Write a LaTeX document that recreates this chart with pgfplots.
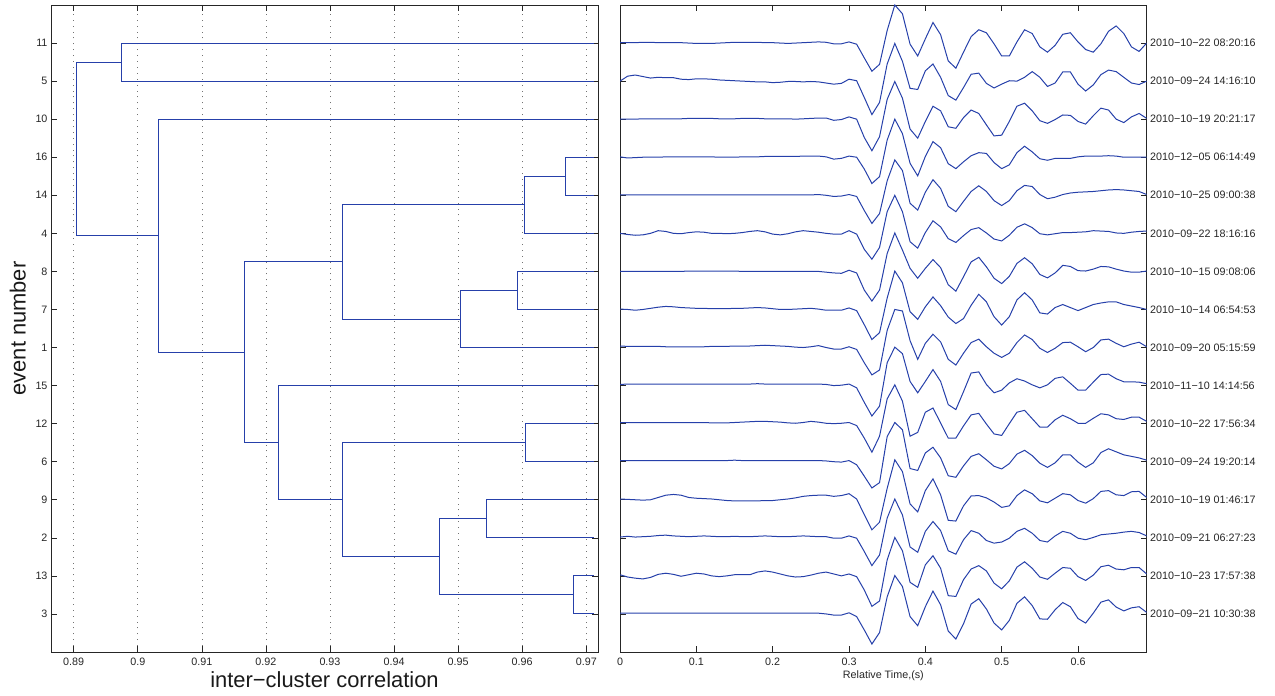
\documentclass[border=0pt]{standalone}
\usepackage{fontspec}
\setmainfont{Liberation Sans}
\usepackage{pgfplots}
\usepackage{pgfplotstable}
\pgfplotsset{compat=1.18}
\definecolor{mblue}{RGB}{38,64,170}

\pgfplotstableread[row sep=\\]{
t v\\
0.00 0.01\\0.01 0.01\\0.02 0.01\\0.03 0.02\\0.04 0.02\\0.05 0.01\\0.06 0.01\\0.07 0.01\\0.08 0.01\\0.09 0.00\\
0.10 -0.01\\0.11 -0.01\\0.12 -0.01\\0.13 0.00\\0.14 0.01\\0.15 0.02\\0.16 0.02\\0.17 0.02\\0.18 0.02\\0.19 0.01\\
0.20 0.01\\0.21 0.00\\0.22 -0.01\\0.23 0.00\\0.24 0.01\\0.25 0.02\\0.26 0.03\\0.27 0.02\\0.28 -0.02\\0.29 -0.02\\
0.30 0.03\\0.31 -0.03\\0.32 -0.39\\0.33 -0.74\\0.34 -0.56\\0.35 0.33\\0.36 1.00\\0.37 0.77\\0.38 -0.03\\0.39 -0.34\\
0.40 0.11\\0.41 0.54\\0.42 0.22\\0.43 -0.47\\0.44 -0.66\\0.45 -0.24\\0.46 0.17\\0.47 0.35\\0.48 0.27\\0.49 -0.02\\
0.50 -0.34\\0.51 -0.34\\0.52 0.03\\0.53 0.35\\0.54 0.25\\0.55 -0.10\\0.56 -0.24\\0.57 -0.06\\0.58 0.23\\0.59 0.27\\
0.60 0.03\\0.61 -0.17\\0.62 -0.24\\0.63 -0.02\\0.64 0.31\\0.65 0.45\\0.66 0.25\\0.67 -0.10\\0.68 -0.22\\0.69 0.00\\
}\wA
\pgfplotstableread[row sep=\\]{
t v\\
0.00 0.00\\0.01 0.13\\0.02 0.16\\0.03 0.12\\0.04 0.08\\0.05 0.10\\0.06 0.09\\0.07 0.09\\0.08 0.05\\0.09 0.04\\
0.10 0.06\\0.11 0.06\\0.12 0.05\\0.13 0.03\\0.14 0.02\\0.15 0.01\\0.16 0.00\\0.17 -0.01\\0.18 -0.02\\0.19 -0.02\\
0.20 -0.04\\0.21 -0.03\\0.22 -0.01\\0.23 -0.01\\0.24 -0.02\\0.25 -0.01\\0.26 -0.02\\0.27 -0.05\\0.28 -0.08\\0.29 -0.06\\
0.30 0.05\\0.31 0.01\\0.32 -0.43\\0.33 -0.88\\0.34 -0.56\\0.35 0.45\\0.36 0.99\\0.37 0.52\\0.38 -0.19\\0.39 -0.22\\
0.40 0.27\\0.41 0.45\\0.42 0.10\\0.43 -0.38\\0.44 -0.50\\0.45 -0.17\\0.46 0.18\\0.47 0.21\\0.48 -0.06\\0.49 -0.18\\
0.50 -0.08\\0.51 0.01\\0.52 0.00\\0.53 0.10\\0.54 0.25\\0.55 0.10\\0.56 -0.14\\0.57 -0.05\\0.58 0.24\\0.59 0.24\\
0.60 -0.08\\0.61 -0.26\\0.62 -0.10\\0.63 0.17\\0.64 0.29\\0.65 0.25\\0.66 0.10\\0.67 -0.05\\0.68 -0.09\\0.69 0.00\\
}\wB
\pgfplotstableread[row sep=\\]{
t v\\
0.00 0.00\\0.01 0.00\\0.02 0.00\\0.03 0.01\\0.04 0.01\\0.05 0.01\\0.06 0.01\\0.07 0.01\\0.08 0.01\\0.09 0.02\\
0.10 0.02\\0.11 0.02\\0.12 0.02\\0.13 0.01\\0.14 0.01\\0.15 0.01\\0.16 0.02\\0.17 0.02\\0.18 0.02\\0.19 0.01\\
0.20 0.01\\0.21 0.01\\0.22 0.01\\0.23 0.00\\0.24 0.01\\0.25 0.02\\0.26 0.03\\0.27 0.03\\0.28 -0.03\\0.29 -0.01\\
0.30 0.06\\0.31 0.00\\0.32 -0.48\\0.33 -0.83\\0.34 -0.46\\0.35 0.52\\0.36 0.99\\0.37 0.55\\0.38 -0.26\\0.39 -0.50\\
0.40 -0.06\\0.41 0.34\\0.42 0.22\\0.43 -0.20\\0.44 -0.24\\0.45 0.04\\0.46 0.24\\0.47 0.15\\0.48 -0.15\\0.49 -0.44\\
0.50 -0.42\\0.51 -0.06\\0.52 0.34\\0.53 0.42\\0.54 0.22\\0.55 -0.04\\0.56 -0.11\\0.57 -0.01\\0.58 0.11\\0.59 0.10\\
0.60 -0.06\\0.61 -0.13\\0.62 0.09\\0.63 0.29\\0.64 0.24\\0.65 0.00\\0.66 -0.09\\0.67 0.06\\0.68 0.15\\0.69 0.02\\
}\wC
\pgfplotstableread[row sep=\\]{
t v\\
0.00 0.01\\0.01 -0.02\\0.02 -0.01\\0.03 0.00\\0.04 0.00\\0.05 0.00\\0.06 0.01\\0.07 0.01\\0.08 0.01\\0.09 0.01\\
0.10 0.01\\0.11 0.01\\0.12 0.01\\0.13 0.00\\0.14 0.00\\0.15 0.00\\0.16 0.01\\0.17 0.01\\0.18 0.01\\0.19 0.02\\
0.20 0.02\\0.21 0.02\\0.22 0.02\\0.23 0.02\\0.24 0.03\\0.25 0.03\\0.26 0.03\\0.27 0.01\\0.28 -0.05\\0.29 -0.03\\
0.30 0.03\\0.31 0.00\\0.32 -0.31\\0.33 -0.69\\0.34 -0.51\\0.35 0.45\\0.36 1.00\\0.37 0.62\\0.38 -0.16\\0.39 -0.49\\
0.40 0.02\\0.41 0.41\\0.42 0.25\\0.43 -0.17\\0.44 -0.30\\0.45 -0.12\\0.46 0.04\\0.47 0.12\\0.48 0.10\\0.49 -0.14\\
0.50 -0.30\\0.51 -0.20\\0.52 0.12\\0.53 0.29\\0.54 0.14\\0.55 -0.04\\0.56 -0.08\\0.57 -0.03\\0.58 -0.03\\0.59 -0.03\\
0.60 0.01\\0.61 0.03\\0.62 0.03\\0.63 0.03\\0.64 0.04\\0.65 0.03\\0.66 0.00\\0.67 0.00\\0.68 0.00\\0.69 0.00\\
}\wD
\pgfplotstableread[row sep=\\]{
t v\\
0.00 0.01\\0.01 0.01\\0.02 0.01\\0.03 0.01\\0.04 0.01\\0.05 0.01\\0.06 0.01\\0.07 0.01\\0.08 0.01\\0.09 0.01\\
0.10 0.01\\0.11 0.01\\0.12 0.01\\0.13 0.01\\0.14 0.01\\0.15 0.01\\0.16 0.01\\0.17 0.01\\0.18 0.01\\0.19 0.01\\
0.20 0.01\\0.21 0.01\\0.22 0.01\\0.23 0.01\\0.24 0.01\\0.25 0.01\\0.26 0.02\\0.27 0.00\\0.28 -0.03\\0.29 -0.02\\
0.30 0.02\\0.31 -0.03\\0.32 -0.40\\0.33 -0.74\\0.34 -0.48\\0.35 0.38\\0.36 0.93\\0.37 0.65\\0.38 -0.21\\0.39 -0.39\\
0.40 0.08\\0.41 0.41\\0.42 0.18\\0.43 -0.29\\0.44 -0.43\\0.45 -0.16\\0.46 0.10\\0.47 0.25\\0.48 0.10\\0.49 -0.14\\
0.50 -0.27\\0.51 -0.14\\0.52 0.12\\0.53 0.26\\0.54 0.23\\0.55 0.02\\0.56 -0.09\\0.57 -0.05\\0.58 0.02\\0.59 0.06\\
0.60 0.08\\0.61 0.09\\0.62 0.10\\0.63 0.12\\0.64 0.14\\0.65 0.15\\0.66 0.14\\0.67 0.12\\0.68 0.10\\0.69 0.02\\
}\wE
\pgfplotstableread[row sep=\\]{
t v\\
0.00 0.00\\0.01 -0.03\\0.02 -0.05\\0.03 -0.04\\0.04 0.00\\0.05 0.07\\0.06 0.05\\0.07 0.00\\0.08 -0.01\\0.09 0.02\\
0.10 0.04\\0.11 0.03\\0.12 0.00\\0.13 0.00\\0.14 -0.01\\0.15 0.00\\0.16 0.02\\0.17 0.05\\0.18 0.07\\0.19 0.04\\
0.20 -0.02\\0.21 -0.04\\0.22 -0.01\\0.23 0.04\\0.24 0.07\\0.25 0.05\\0.26 0.03\\0.27 0.00\\0.28 -0.02\\0.29 -0.02\\
0.30 0.07\\0.31 -0.02\\0.32 -0.42\\0.33 -0.68\\0.34 -0.37\\0.35 0.57\\0.36 1.00\\0.37 0.57\\0.38 -0.22\\0.39 -0.39\\
0.40 0.02\\0.41 0.33\\0.42 0.17\\0.43 -0.14\\0.44 -0.24\\0.45 -0.06\\0.46 0.10\\0.47 0.15\\0.48 0.01\\0.49 -0.15\\
0.50 -0.20\\0.51 -0.05\\0.52 0.16\\0.53 0.25\\0.54 0.15\\0.55 -0.01\\0.56 -0.04\\0.57 -0.01\\0.58 0.02\\0.59 0.02\\
0.60 0.03\\0.61 0.04\\0.62 0.07\\0.63 0.06\\0.64 0.05\\0.65 0.01\\0.66 0.00\\0.67 0.03\\0.68 0.05\\0.69 0.06\\
}\wF
\pgfplotstableread[row sep=\\]{
t v\\
0.00 0.00\\0.01 0.00\\0.02 0.00\\0.03 0.00\\0.04 0.00\\0.05 0.00\\0.06 0.00\\0.07 0.00\\0.08 0.00\\0.09 0.01\\
0.10 0.01\\0.11 0.01\\0.12 0.01\\0.13 0.01\\0.14 0.01\\0.15 0.01\\0.16 0.00\\0.17 0.00\\0.18 0.00\\0.19 0.00\\
0.20 0.00\\0.21 0.00\\0.22 0.00\\0.23 0.00\\0.24 0.00\\0.25 0.00\\0.26 0.00\\0.27 -0.02\\0.28 -0.04\\0.29 -0.05\\
0.30 0.03\\0.31 -0.04\\0.32 -0.49\\0.33 -0.78\\0.34 -0.49\\0.35 0.47\\0.36 1.01\\0.37 0.56\\0.38 0.08\\0.39 -0.18\\
0.40 0.08\\0.41 0.31\\0.42 0.10\\0.43 -0.35\\0.44 -0.52\\0.45 -0.14\\0.46 0.25\\0.47 0.37\\0.48 0.12\\0.49 -0.18\\
0.50 -0.32\\0.51 -0.13\\0.52 0.21\\0.53 0.36\\0.54 0.20\\0.55 -0.08\\0.56 -0.17\\0.57 -0.04\\0.58 0.16\\0.59 0.13\\
0.60 0.02\\0.61 0.01\\0.62 0.06\\0.63 0.13\\0.64 0.12\\0.65 0.06\\0.66 0.01\\0.67 -0.02\\0.68 -0.02\\0.69 0.01\\
}\wG
\pgfplotstableread[row sep=\\]{
t v\\
0.00 0.01\\0.01 0.00\\0.02 -0.02\\0.03 0.00\\0.04 0.03\\0.05 0.06\\0.06 0.08\\0.07 0.07\\0.08 0.05\\0.09 0.04\\
0.10 0.03\\0.11 0.03\\0.12 0.02\\0.13 0.02\\0.14 0.02\\0.15 0.03\\0.16 0.03\\0.17 0.04\\0.18 0.05\\0.19 0.04\\
0.20 0.02\\0.21 0.00\\0.22 0.00\\0.23 0.01\\0.24 0.02\\0.25 0.03\\0.26 0.01\\0.27 -0.02\\0.28 -0.02\\0.29 -0.02\\
0.30 0.04\\0.31 -0.03\\0.32 -0.40\\0.33 -0.79\\0.34 -0.61\\0.35 0.30\\0.36 1.01\\0.37 0.70\\0.38 -0.06\\0.39 -0.26\\
0.40 0.07\\0.41 0.33\\0.42 0.10\\0.43 -0.20\\0.44 -0.37\\0.45 -0.24\\0.46 0.11\\0.47 0.40\\0.48 0.20\\0.49 -0.19\\
0.50 -0.41\\0.51 -0.19\\0.52 0.25\\0.53 0.44\\0.54 0.25\\0.55 -0.09\\0.56 -0.12\\0.57 0.05\\0.58 0.13\\0.59 0.05\\
0.60 -0.03\\0.61 0.05\\0.62 0.13\\0.63 0.17\\0.64 0.20\\0.65 0.20\\0.66 0.13\\0.67 0.09\\0.68 0.05\\0.69 0.00\\
}\wH
\pgfplotstableread[row sep=\\]{
t v\\
0.00 0.04\\0.01 0.03\\0.02 0.03\\0.03 0.03\\0.04 0.03\\0.05 0.03\\0.06 0.02\\0.07 0.02\\0.08 0.02\\0.09 0.02\\
0.10 0.02\\0.11 0.02\\0.12 0.03\\0.13 0.03\\0.14 0.03\\0.15 0.04\\0.16 0.04\\0.17 0.04\\0.18 0.05\\0.19 0.06\\
0.20 0.05\\0.21 0.04\\0.22 0.03\\0.23 0.01\\0.24 0.00\\0.25 0.02\\0.26 0.05\\0.27 0.00\\0.28 -0.04\\0.29 -0.04\\
0.30 0.02\\0.31 -0.05\\0.32 -0.40\\0.33 -0.72\\0.34 -0.59\\0.35 0.45\\0.36 1.00\\0.37 0.96\\0.38 0.18\\0.39 -0.31\\
0.40 0.11\\0.41 0.35\\0.42 0.15\\0.43 -0.31\\0.44 -0.46\\0.45 -0.15\\0.46 0.13\\0.47 0.22\\0.48 0.02\\0.49 -0.15\\
0.50 -0.26\\0.51 -0.15\\0.52 0.13\\0.53 0.33\\0.54 0.21\\0.55 -0.02\\0.56 -0.13\\0.57 -0.02\\0.58 0.13\\0.59 0.14\\
0.60 0.02\\0.61 -0.11\\0.62 0.00\\0.63 0.20\\0.64 0.22\\0.65 0.11\\0.66 0.02\\0.67 0.09\\0.68 0.14\\0.69 0.02\\
}\wI
\pgfplotstableread[row sep=\\]{
t v\\
0.00 0.03\\0.01 0.04\\0.02 0.04\\0.03 0.04\\0.04 0.04\\0.05 0.04\\0.06 0.04\\0.07 0.04\\0.08 0.04\\0.09 0.04\\
0.10 0.04\\0.11 0.04\\0.12 0.04\\0.13 0.04\\0.14 0.04\\0.15 0.04\\0.16 0.04\\0.17 0.04\\0.18 0.05\\0.19 0.04\\
0.20 0.04\\0.21 0.04\\0.22 0.04\\0.23 0.04\\0.24 0.04\\0.25 0.04\\0.26 0.04\\0.27 0.03\\0.28 0.00\\0.29 0.01\\
0.30 0.04\\0.31 -0.06\\0.32 -0.44\\0.33 -0.80\\0.34 -0.54\\0.35 0.60\\0.36 1.01\\0.37 0.84\\0.38 0.11\\0.39 -0.19\\
0.40 0.11\\0.41 0.42\\0.42 0.11\\0.43 -0.50\\0.44 -0.63\\0.45 -0.16\\0.46 0.33\\0.47 0.36\\0.48 0.03\\0.49 -0.19\\
0.50 -0.12\\0.51 0.07\\0.52 0.18\\0.53 0.12\\0.54 0.02\\0.55 -0.06\\0.56 0.02\\0.57 0.19\\0.58 0.23\\0.59 0.06\\
0.60 -0.12\\0.61 -0.12\\0.62 0.09\\0.63 0.29\\0.64 0.30\\0.65 0.18\\0.66 0.10\\0.67 0.10\\0.68 0.09\\0.69 0.05\\
}\wJ
\pgfplotstableread[row sep=\\]{
t v\\
0.00 0.03\\0.01 0.03\\0.02 0.03\\0.03 0.03\\0.04 0.03\\0.05 0.03\\0.06 0.03\\0.07 0.03\\0.08 0.03\\0.09 0.03\\
0.10 0.03\\0.11 0.03\\0.12 0.02\\0.13 0.02\\0.14 0.02\\0.15 0.03\\0.16 0.04\\0.17 0.05\\0.18 0.06\\0.19 0.06\\
0.20 0.05\\0.21 0.04\\0.22 0.02\\0.23 0.01\\0.24 0.03\\0.25 0.06\\0.26 0.04\\0.27 0.01\\0.28 0.00\\0.29 0.01\\
0.30 0.03\\0.31 -0.05\\0.32 -0.38\\0.33 -0.75\\0.34 -0.33\\0.35 0.65\\0.36 1.02\\0.37 0.59\\0.38 -0.33\\0.39 -0.23\\
0.40 0.30\\0.41 0.41\\0.42 0.02\\0.43 -0.38\\0.44 -0.38\\0.45 -0.06\\0.46 0.23\\0.47 0.27\\0.48 -0.01\\0.49 -0.27\\
0.50 -0.31\\0.51 0.00\\0.52 0.30\\0.53 0.35\\0.54 0.13\\0.55 -0.09\\0.56 -0.09\\0.57 0.10\\0.58 0.22\\0.59 0.13\\
0.60 0.01\\0.61 0.01\\0.62 0.14\\0.63 0.26\\0.64 0.23\\0.65 0.13\\0.66 0.11\\0.67 0.17\\0.68 0.17\\0.69 0.06\\
}\wK
\pgfplotstableread[row sep=\\]{
t v\\
0.00 0.03\\0.01 0.03\\0.02 0.03\\0.03 0.03\\0.04 0.03\\0.05 0.03\\0.06 0.03\\0.07 0.03\\0.08 0.03\\0.09 0.03\\
0.10 0.03\\0.11 0.03\\0.12 0.03\\0.13 0.03\\0.14 0.03\\0.15 0.04\\0.16 0.03\\0.17 0.03\\0.18 0.03\\0.19 0.03\\
0.20 0.03\\0.21 0.03\\0.22 0.03\\0.23 0.03\\0.24 0.03\\0.25 0.03\\0.26 0.03\\0.27 0.02\\0.28 0.00\\0.29 -0.01\\
0.30 0.03\\0.31 -0.08\\0.32 -0.38\\0.33 -0.69\\0.34 -0.55\\0.35 0.66\\0.36 1.03\\0.37 0.84\\0.38 -0.18\\0.39 -0.23\\
0.40 0.23\\0.41 0.38\\0.42 0.10\\0.43 -0.37\\0.44 -0.41\\0.45 -0.11\\0.46 0.14\\0.47 0.21\\0.48 0.05\\0.49 -0.12\\
0.50 -0.19\\0.51 -0.05\\0.52 0.20\\0.53 0.30\\0.54 0.16\\0.55 -0.04\\0.56 -0.15\\0.57 -0.03\\0.58 0.18\\0.59 0.18\\
0.60 -0.01\\0.61 -0.15\\0.62 -0.03\\0.63 0.24\\0.64 0.34\\0.65 0.26\\0.66 0.18\\0.67 0.14\\0.68 0.10\\0.69 0.04\\
}\wL
\pgfplotstableread[row sep=\\]{
t v\\
0.00 0.02\\0.01 0.01\\0.02 0.00\\0.03 -0.01\\0.04 0.00\\0.05 0.06\\0.06 0.12\\0.07 0.14\\0.08 0.12\\0.09 0.06\\
0.10 0.04\\0.11 0.03\\0.12 0.02\\0.13 0.00\\0.14 -0.02\\0.15 -0.03\\0.16 -0.03\\0.17 -0.03\\0.18 -0.03\\0.19 -0.02\\
0.20 -0.02\\0.21 0.00\\0.22 0.02\\0.23 0.05\\0.24 0.09\\0.25 0.11\\0.26 0.12\\0.27 0.12\\0.28 0.09\\0.29 0.11\\
0.30 0.16\\0.31 0.02\\0.32 -0.39\\0.33 -0.79\\0.34 -0.59\\0.35 0.30\\0.36 1.05\\0.37 0.74\\0.38 -0.11\\0.39 -0.32\\
0.40 0.24\\0.41 0.55\\0.42 0.13\\0.43 -0.54\\0.44 -0.56\\0.45 -0.16\\0.46 0.10\\0.47 0.11\\0.48 0.05\\0.49 -0.06\\
0.50 -0.20\\0.51 -0.16\\0.52 0.11\\0.53 0.26\\0.54 0.16\\0.55 -0.03\\0.56 -0.08\\0.57 0.04\\0.58 0.16\\0.59 0.13\\
0.60 -0.02\\0.61 -0.09\\0.62 0.03\\0.63 0.22\\0.64 0.24\\0.65 0.13\\0.66 0.11\\0.67 0.21\\0.68 0.22\\0.69 0.06\\
}\wM
\pgfplotstableread[row sep=\\]{
t v\\
0.00 0.02\\0.01 0.04\\0.02 0.02\\0.03 0.03\\0.04 0.04\\0.05 0.06\\0.06 0.07\\0.07 0.05\\0.08 0.04\\0.09 0.03\\
0.10 0.04\\0.11 0.05\\0.12 0.04\\0.13 0.03\\0.14 0.03\\0.15 0.04\\0.16 0.03\\0.17 0.03\\0.18 0.04\\0.19 0.05\\
0.20 0.04\\0.21 0.03\\0.22 0.03\\0.23 0.04\\0.24 0.05\\0.25 0.04\\0.26 0.03\\0.27 0.03\\0.28 -0.01\\0.29 -0.01\\
0.30 0.05\\0.31 -0.01\\0.32 -0.36\\0.33 -0.73\\0.34 -0.45\\0.35 0.52\\0.36 1.02\\0.37 0.60\\0.38 -0.24\\0.39 -0.38\\
0.40 0.17\\0.41 0.43\\0.42 0.19\\0.43 -0.34\\0.44 -0.43\\0.45 -0.05\\0.46 0.19\\0.47 0.12\\0.48 -0.07\\0.49 -0.14\\
0.50 -0.11\\0.51 -0.01\\0.52 0.17\\0.53 0.25\\0.54 0.12\\0.55 -0.07\\0.56 -0.11\\0.57 0.05\\0.58 0.17\\0.59 0.12\\
0.60 -0.01\\0.61 -0.05\\0.62 0.01\\0.63 0.08\\0.64 0.10\\0.65 0.12\\0.66 0.15\\0.67 0.17\\0.68 0.14\\0.69 0.05\\
}\wN
\pgfplotstableread[row sep=\\]{
t v\\
0.00 0.03\\0.01 -0.03\\0.02 -0.06\\0.03 -0.08\\0.04 -0.04\\0.05 0.04\\0.06 0.07\\0.07 0.04\\0.08 -0.01\\0.09 0.03\\
0.10 0.07\\0.11 0.05\\0.12 0.00\\0.13 -0.02\\0.14 0.00\\0.15 0.03\\0.16 0.03\\0.17 0.03\\0.18 0.10\\0.19 0.13\\
0.20 0.10\\0.21 0.05\\0.22 0.00\\0.23 -0.03\\0.24 -0.02\\0.25 0.02\\0.26 0.07\\0.27 0.10\\0.28 0.05\\0.29 0.00\\
0.30 0.05\\0.31 -0.02\\0.32 -0.37\\0.33 -0.80\\0.34 -0.66\\0.35 0.42\\0.36 1.01\\0.37 0.66\\0.38 -0.17\\0.39 -0.30\\
0.40 0.29\\0.41 0.53\\0.42 0.20\\0.43 -0.52\\0.44 -0.54\\0.45 -0.10\\0.46 0.18\\0.47 0.27\\0.48 0.13\\0.49 -0.19\\
0.50 -0.34\\0.51 -0.13\\0.52 0.23\\0.53 0.37\\0.54 0.20\\0.55 -0.03\\0.56 -0.09\\0.57 0.07\\0.58 0.22\\0.59 0.20\\
0.60 -0.02\\0.61 -0.12\\0.62 0.02\\0.63 0.24\\0.64 0.28\\0.65 0.18\\0.66 0.16\\0.67 0.22\\0.68 0.22\\0.69 0.05\\
}\wO
\pgfplotstableread[row sep=\\]{
t v\\
0.00 0.02\\0.01 0.02\\0.02 0.02\\0.03 0.02\\0.04 0.02\\0.05 0.02\\0.06 0.02\\0.07 0.02\\0.08 0.02\\0.09 0.02\\
0.10 0.02\\0.11 0.02\\0.12 0.02\\0.13 0.02\\0.14 0.02\\0.15 0.02\\0.16 0.02\\0.17 0.02\\0.18 0.02\\0.19 0.02\\
0.20 0.02\\0.21 0.02\\0.22 0.02\\0.23 0.02\\0.24 0.02\\0.25 0.02\\0.26 0.02\\0.27 0.00\\0.28 -0.03\\0.29 -0.03\\
0.30 0.03\\0.31 -0.07\\0.32 -0.42\\0.33 -0.79\\0.34 -0.49\\0.35 0.45\\0.36 1.01\\0.37 0.72\\0.38 -0.07\\0.39 -0.31\\
0.40 0.19\\0.41 0.60\\0.42 0.24\\0.43 -0.45\\0.44 -0.66\\0.45 -0.26\\0.46 0.26\\0.47 0.40\\0.48 0.13\\0.49 -0.24\\
0.50 -0.42\\0.51 -0.17\\0.52 0.28\\0.53 0.45\\0.54 0.22\\0.55 -0.13\\0.56 -0.14\\0.57 0.11\\0.58 0.30\\0.59 0.19\\
0.60 -0.12\\0.61 -0.24\\0.62 0.02\\0.63 0.31\\0.64 0.37\\0.65 0.18\\0.66 0.08\\0.67 0.16\\0.68 0.19\\0.69 0.04\\
}\wP

% dendrogram links (U-shapes separated by nan rows); leaf ends at 0.9712
\pgfplotstableread{
x y
0.9712 2
0.9680 2
0.9680 1
0.9712 1
nan nan
0.9712 4
0.9544 4
0.9544 3
0.9712 3
nan nan
0.9680 1.5
0.9471 1.5
0.9471 3.5
0.9544 3.5
nan nan
0.9712 6
0.9605 6
0.9605 5
0.9712 5
nan nan
0.9605 5.5
0.9320 5.5
0.9320 2.5
0.9471 2.5
nan nan
0.9712 7
0.9219 7
0.9219 4
0.9320 4
nan nan
0.9712 10
0.9592 10
0.9592 9
0.9712 9
nan nan
0.9712 8
0.9504 8
0.9504 9.5
0.9592 9.5
nan nan
0.9712 13
0.9667 13
0.9667 12
0.9712 12
nan nan
0.9712 11
0.9604 11
0.9604 12.5
0.9667 12.5
nan nan
0.9604 11.75
0.9319 11.75
0.9319 8.75
0.9504 8.75
nan nan
0.9319 10.25
0.9167 10.25
0.9167 5.5
0.9219 5.5
nan nan
0.9712 14
0.9033 14
0.9033 7.875
0.9167 7.875
nan nan
0.9712 16
0.8975 16
0.8975 15
0.9712 15
nan nan
0.8975 15.5
0.8904 15.5
0.8904 10.9375
0.9033 10.9375
}\dendro

\pgfplotsset{
  mystyle/.style={
    scale only axis,
    anchor=south west,
    height=647bp,
    ymin=0, ymax=17,
    ytick={1,2,3,4,5,6,7,8,9,10,11,12,13,14,15,16},
    tick align=inside,
    major tick length=6bp,
    axis line style={black!85, line width=0.8bp},
    every tick/.style={black!85, line width=0.6bp},
    tick label style={font=\fontsize{10.8}{12}\selectfont, text=black!85},
    xticklabel style={yshift=-2bp},
    /pgf/number format/assume math mode=true,
  },
  wave/.style={mblue, line width=1bp, mark=none},
}

\begin{document}
\begin{tikzpicture}
\useasboundingbox (0,0) rectangle (1275bp,696bp);
\begin{axis}[mystyle,
  at={(51bp,44bp)}, width=547bp,
  xmin=0.88646, xmax=0.97183,
  xtick={0.89,0.90,0.91,0.92,0.93,0.94,0.95,0.96,0.97},
  xticklabels={0.89,0.9,0.91,0.92,0.93,0.94,0.95,0.96,0.97},
  yticklabels={3,13,2,9,6,12,15,1,7,8,4,14,16,10,5,11},
  xmajorgrids,
  major grid style={black!55, line width=0.6bp, dash pattern=on 0.9bp off 5bp},
  xlabel={inter−cluster correlation},
  ylabel={event number},
  label style={font=\fontsize{22}{24}\selectfont, text=black!90},
  xlabel style={at={(axis description cs:0.5,-0.0556)}, anchor=base},
  ylabel style={at={(axis description cs:-0.0466,0.5)}, anchor=base},
  clip=false,
  unbounded coords=jump,
]
\addplot[draw=mblue, line width=0.9bp, mark=none] table[x=x, y=y] {\dendro};
\end{axis}

\begin{axis}[mystyle,
  at={(620bp,44bp)}, width=526.7bp,
  xmin=0, xmax=0.69,
  xtick={0,0.1,0.2,0.3,0.4,0.5,0.6},
  xticklabels={0,0.1,0.2,0.3,0.4,0.5,0.6},
  yticklabel pos=right,
  yticklabels={2010−09−21 10:30:38,2010−10−23 17:57:38,2010−09−21 06:27:23,2010−10−19 01:46:17,2010−09−24 19:20:14,2010−10−22 17:56:34,2010−11−10 14:14:56,2010−09−20 05:15:59,2010−10−14 06:54:53,2010−10−15 09:08:06,2010−09−22 18:16:16,2010−10−25 09:00:38,2010−12−05 06:14:49,2010−10−19 20:21:17,2010−09−24 14:16:10,2010−10−22 08:20:16},
  xlabel={Relative Time,(s)},
  xlabel style={font=\fontsize{10.8}{12}\selectfont, text=black!85, at={(axis description cs:0.5,-0.0417)}, anchor=base},
]
\addplot[wave] table[x=t, y expr=\thisrow{v}+16] {\wA};
\addplot[wave] table[x=t, y expr=\thisrow{v}+15] {\wB};
\addplot[wave] table[x=t, y expr=\thisrow{v}+14] {\wC};
\addplot[wave] table[x=t, y expr=\thisrow{v}+13] {\wD};
\addplot[wave] table[x=t, y expr=\thisrow{v}+12] {\wE};
\addplot[wave] table[x=t, y expr=\thisrow{v}+11] {\wF};
\addplot[wave] table[x=t, y expr=\thisrow{v}+10] {\wG};
\addplot[wave] table[x=t, y expr=\thisrow{v}+9] {\wH};
\addplot[wave] table[x=t, y expr=\thisrow{v}+8] {\wI};
\addplot[wave] table[x=t, y expr=\thisrow{v}+7] {\wJ};
\addplot[wave] table[x=t, y expr=\thisrow{v}+6] {\wK};
\addplot[wave] table[x=t, y expr=\thisrow{v}+5] {\wL};
\addplot[wave] table[x=t, y expr=\thisrow{v}+4] {\wM};
\addplot[wave] table[x=t, y expr=\thisrow{v}+3] {\wN};
\addplot[wave] table[x=t, y expr=\thisrow{v}+2] {\wO};
\addplot[wave] table[x=t, y expr=\thisrow{v}+1] {\wP};
\end{axis}
\end{tikzpicture}
\end{document}
